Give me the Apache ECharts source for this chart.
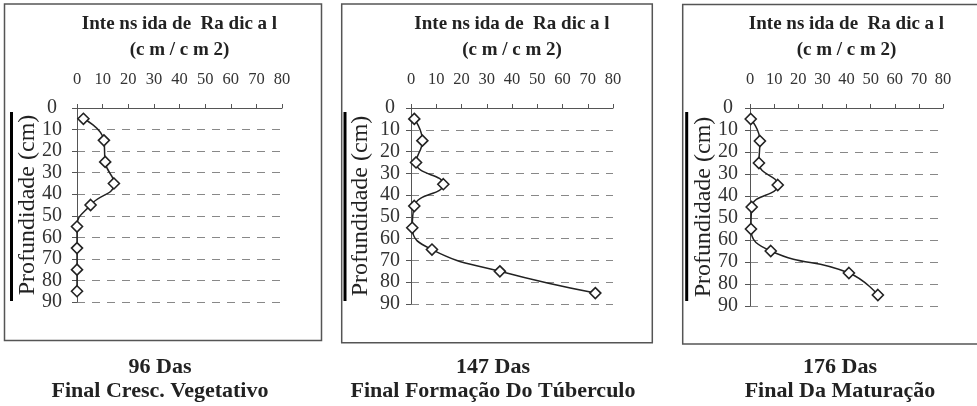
<!DOCTYPE html>
<html>
<head>
<meta charset="utf-8">
<script src="https://cdn.jsdelivr.net/npm/echarts@6/dist/echarts.min.js"></script>
<style>
html,body{margin:0;padding:0;background:#fff;}
#chart{width:977px;height:406px;}
</style>
</head>
<body>
<div id="chart"></div>
<script>
// ---- data ----
var depths = [5, 15, 25, 35, 45, 55, 65, 75, 85];
var das96 = [2.5, 10.5, 11, 14.4, 5.3, 0, 0, 0, 0];
var das147 = [1.3, 4.5, 2, 12.8, 1.3, 0.5, 8.3, 35.2, 73];
var das176 = [0.3, 4.1, 3.7, 11.5, 0.7, 0.4, 8.6, 41, 53];
var xTicks = [0, 10, 20, 30, 40, 50, 60, 70, 80];
var yTicks = [0, 10, 20, 30, 40, 50, 60, 70, 80, 90];
var topTitle = 'Inte ns ida de  Ra dic a l';
var topUnit = '(c m / c m 2)';
var yName = 'Profundidade (cm)';
var captions = ['96 Das\nFinal Cresc. Vegetativo', '147 Das\nFinal Formação Do Túberculo', '176 Das\nFinal Da Maturação'];
var seriesData = [das96, das147, das176];

var FONT = '"Liberation Serif", "Times New Roman", serif';

// layout (pixels)
var grids = [
  {left: 77, top: 108, width: 205, height: 194},
  {left: 411, top: 108, width: 202, height: 196},
  {left: 750, top: 108, width: 193, height: 198}
];
var labelMargins = [25, 21, 22];
var nameGaps = [37, 38, 34];
var captionCenters = [160, 493, 840];
var panels = [
  {x: 4.5, y: 4, w: 317, h: 336.5},
  {x: 341.7, y: 4, w: 310.6, h: 338.7},
  {x: 682.7, y: 4.5, w: 300, h: 339.6}
];
var bars = [11.5, 345, 686.7];

function pairs(xs) { return xs.map(function (v, i) { return [v, depths[i]]; }); }

var option = {
  animation: false,
  backgroundColor: '#fff',
  title: [],
  grid: [],
  xAxis: [],
  yAxis: [],
  series: [],
  graphic: []
};

for (var k = 0; k < 3; k++) {
  var g = grids[k];
  option.grid.push({left: g.left, top: g.top, width: g.width, height: g.height, containLabel: false});
  var cx = g.left + g.width / 2;
  option.title.push({
    text: topTitle + '\n' + topUnit,
    left: cx, top: 11, textAlign: 'center', padding: 0,
    textStyle: {fontFamily: FONT, fontWeight: 'bold', fontSize: 19, color: '#222', lineHeight: 26}
  });
  option.title.push({
    text: captions[k],
    left: captionCenters[k], top: 355, textAlign: 'center', padding: 0,
    textStyle: {fontFamily: FONT, fontWeight: 'bold', fontSize: 22, color: '#222', lineHeight: 24}
  });
  option.xAxis.push({
    type: 'value', gridIndex: k, position: 'top', min: 0, max: 80, interval: 10,
    axisLine: {show: true, lineStyle: {color: '#555', width: 1}},
    axisTick: {show: true, length: 4, lineStyle: {color: '#555'}},
    axisLabel: {margin: 20, fontFamily: FONT, fontSize: 16.5, color: '#333',
      formatter: function (v) { return xTicks.indexOf(v) >= 0 ? String(v) : ''; }},
    splitLine: {show: false}
  });
  option.yAxis.push({
    type: 'value', gridIndex: k, inverse: true, min: 0, max: 90, interval: 10,
    name: yName, nameLocation: 'middle', nameGap: nameGaps[k], nameRotate: 90,
    nameMoveOverlap: false,
    nameTextStyle: {fontFamily: FONT, fontSize: 24, color: '#222'},
    axisLine: {show: true, lineStyle: {color: '#555', width: 1}},
    axisTick: {show: true, length: 5, lineStyle: {color: '#555'}},
    axisLabel: {margin: labelMargins[k], align: 'center', fontFamily: FONT, fontSize: 20, color: '#333',
      formatter: function (v) { return yTicks.indexOf(v) >= 0 ? String(v) : ''; }},
    splitLine: {show: true, lineStyle: {color: '#888', width: 1, type: [8, 7]}}
  });
  option.series.push({
    type: 'line', xAxisIndex: k, yAxisIndex: k,
    data: pairs(seriesData[k]),
    smooth: 0.5,
    symbol: 'diamond', symbolSize: 11,
    lineStyle: {color: '#222', width: 1.5},
    itemStyle: {color: '#fff', borderColor: '#222', borderWidth: 1.6},
    z: 5
  });
  var p = panels[k];
  option.graphic.push({
    type: 'rect', shape: {x: p.x, y: p.y, width: p.w, height: p.h},
    style: {fill: null, stroke: '#555', lineWidth: 1.5}, silent: true, z: -1
  });
  option.graphic.push({
    type: 'rect', shape: {x: bars[k] - 1.5, y: 112, width: 3, height: 189},
    style: {fill: '#000'}, silent: true
  });
}

var chart = echarts.init(document.getElementById('chart'), null, {renderer: 'canvas'});
chart.setOption(option);
</script>
</body>
</html>
